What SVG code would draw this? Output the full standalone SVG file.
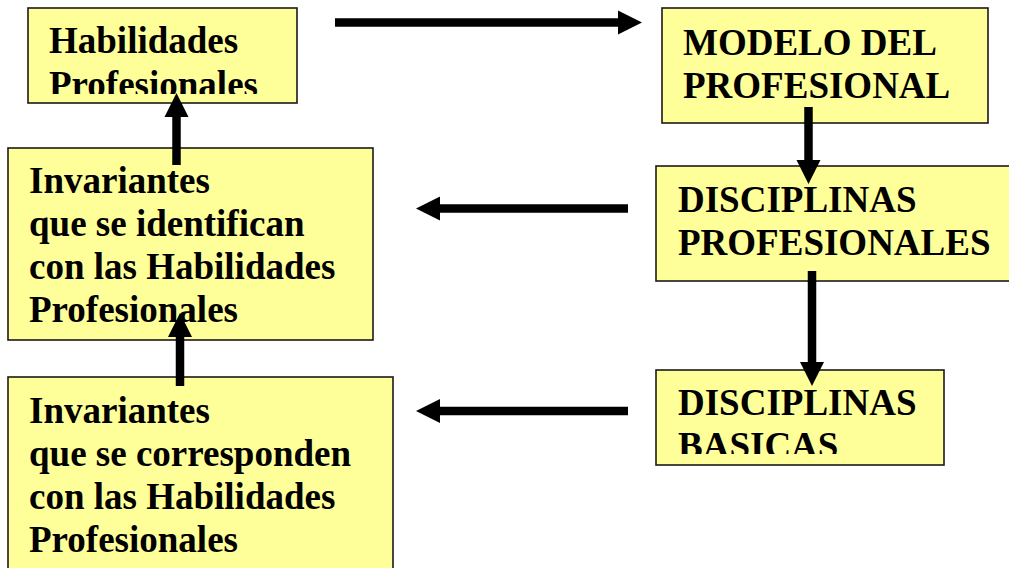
<svg xmlns="http://www.w3.org/2000/svg" width="1009" height="568" viewBox="0 0 1009 568">
  <style>
    .box { fill: #FFFF99; stroke: #1a1a1a; stroke-width: 1.6; }
    .lbl { font-family: "Liberation Serif", "Times New Roman", serif; font-weight: bold; font-size: 37px; fill: #000; }
    .arrow { stroke: #000; stroke-width: 8.5; fill: none; marker-end: url(#head); }
  </style>
  <defs>
    <marker id="head" markerUnits="userSpaceOnUse" markerWidth="24" markerHeight="24" refX="0" refY="12" orient="auto" overflow="visible">
      <path d="M0,0 L24,12 L0,24 Z" fill="#000"/>
    </marker>
    <clipPath id="clip-hab"><rect x="28" y="8" width="269" height="86"/></clipPath>
    <clipPath id="clip-bas"><rect x="656" y="370" width="288" height="84"/></clipPath>
  </defs>
  <rect width="1009" height="568" fill="#fff"/>

  <g id="habilidades">
    <rect class="box" x="28" y="8" width="269" height="95"/>
    <g clip-path="url(#clip-hab)">
      <text class="lbl" x="49" y="53">Habilidades</text>
      <text class="lbl" x="49" y="97">Profesionales</text>
    </g>
  </g>

  <g id="modelo">
    <rect class="box" x="662" y="8" width="326" height="115"/>
    <text class="lbl" x="683" y="55">MODELO DEL</text>
    <text class="lbl" x="683" y="98">PROFESIONAL</text>
  </g>

  <g id="disciplinas-profesionales">
    <rect class="box" x="656" y="166" width="360" height="115"/>
    <text class="lbl" x="678" y="212">DISCIPLINAS</text>
    <text class="lbl" x="678" y="255">PROFESIONALES</text>
  </g>

  <g id="disciplinas-basicas">
    <rect class="box" x="656" y="370" width="288" height="95"/>
    <g clip-path="url(#clip-bas)">
      <text class="lbl" x="678" y="415">DISCIPLINAS</text>
      <text class="lbl" x="678" y="458">BASICAS</text>
    </g>
  </g>

  <g id="invariantes-identifican">
    <rect class="box" x="8" y="148" width="365" height="192"/>
    <text class="lbl" x="29" y="193">Invariantes</text>
    <text class="lbl" x="29" y="236">que se identifican</text>
    <text class="lbl" x="29" y="279">con las Habilidades</text>
    <text class="lbl" x="29" y="322">Profesionales</text>
  </g>

  <g id="invariantes-corresponden">
    <rect class="box" x="8" y="377" width="385" height="200"/>
    <text class="lbl" x="29" y="423">Invariantes</text>
    <text class="lbl" x="29" y="466">que se corresponden</text>
    <text class="lbl" x="29" y="509">con las Habilidades</text>
    <text class="lbl" x="29" y="552">Profesionales</text>
  </g>

  <g id="connectors">
    <line class="arrow" x1="335" y1="22.5" x2="618" y2="22.5"/>
    <line class="arrow" x1="808.5" y1="107" x2="808.5" y2="160"/>
    <line class="arrow" x1="812" y1="271" x2="812" y2="362"/>
    <line class="arrow" x1="628" y1="208.5" x2="440" y2="208.5"/>
    <line class="arrow" x1="628" y1="411" x2="440" y2="411"/>
    <line class="arrow" x1="176.5" y1="165" x2="176.5" y2="117"/>
    <line class="arrow" x1="180" y1="386" x2="180" y2="337"/>
  </g>
</svg>
